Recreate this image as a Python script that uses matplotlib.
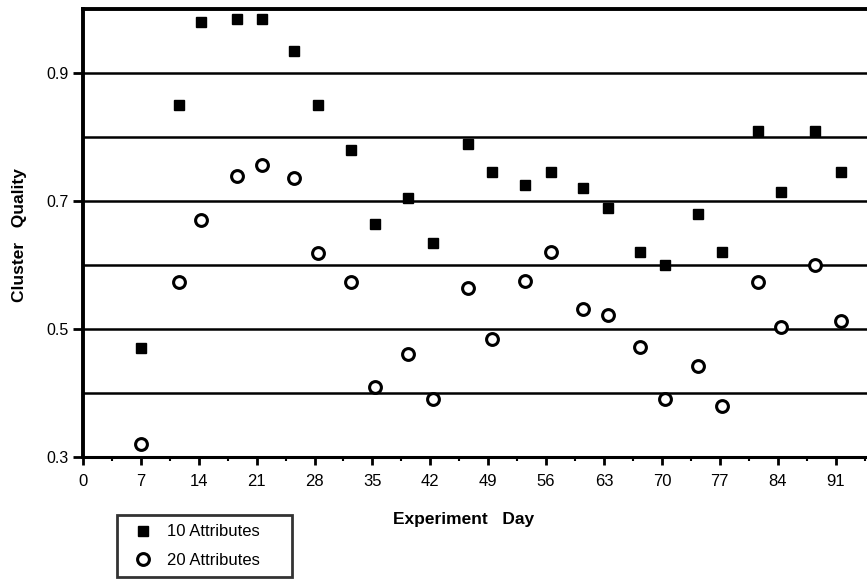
import matplotlib
matplotlib.use("Agg")
import matplotlib.pyplot as plt
from matplotlib.ticker import MultipleLocator

# =============================================================================
# DATA
# =============================================================================

days = [7, 11.6, 14.3, 18.6, 21.6, 25.5, 28.4, 32.4, 35.3, 39.3, 42.3, 46.5, 49.4,
        53.5, 56.6, 60.5, 63.5, 67.3, 70.4, 74.4, 77.3, 81.6, 84.4, 88.5, 91.6]

attr10 = [0.47, 0.85, 0.98, 0.985, 0.985, 0.935, 0.85, 0.78, 0.665, 0.705, 0.635, 0.79, 0.745,
          0.725, 0.745, 0.72, 0.69, 0.62, 0.60, 0.68, 0.62, 0.81, 0.715, 0.81, 0.745]

attr20 = [0.32, 0.573, 0.67, 0.739, 0.757, 0.737, 0.619, 0.573, 0.41, 0.461, 0.39, 0.564, 0.484,
          0.575, 0.62, 0.531, 0.522, 0.472, 0.39, 0.442, 0.38, 0.573, 0.503, 0.60, 0.512]

x_ticks = [0, 7, 14, 21, 28, 35, 42, 49, 56, 63, 70, 77, 84, 91]
y_ticks = [0.3, 0.5, 0.7, 0.9]
grid_levels = [0.4, 0.5, 0.6, 0.7, 0.8, 0.9]

# =============================================================================
# FIGURE
# =============================================================================

plt.rcParams['font.family'] = ['Liberation Sans', 'DejaVu Sans']

fig = plt.figure(figsize=(8.67, 5.81), dpi=100)
ax = fig.add_axes([0.0957, 0.2134, 0.9043, 0.7706])

for lvl in grid_levels:
    ax.axhline(lvl, color='black', lw=1.8, zorder=1)

ax.plot(days, attr10, linestyle='none', marker='s', markersize=7,
        color='black', label='10 Attributes', zorder=3)
ax.plot(days, attr20, linestyle='none', marker='o', markersize=8.5,
        markerfacecolor='white', markeredgecolor='black', markeredgewidth=2.2,
        label='20 Attributes', zorder=3)

ax.set_xlim(0, 94.8)
ax.set_ylim(0.3, 1.0)

ax.set_xticks(x_ticks)
ax.xaxis.set_minor_locator(MultipleLocator(3.5))
ax.set_yticks(y_ticks)
ax.set_yticklabels([f"{v:.1f}" for v in y_ticks])

ax.tick_params(axis='x', which='major', direction='out', length=6, width=2, labelsize=12, pad=6)
ax.tick_params(axis='x', which='minor', direction='out', length=3, width=1.5)
ax.tick_params(axis='y', which='major', direction='out', length=7, width=2, labelsize=11.5, pad=3)

ax.spines['right'].set_visible(False)
ax.spines['left'].set_linewidth(2.8)
ax.spines['bottom'].set_linewidth(2.2)
ax.spines['top'].set_linewidth(2.8)

ax.set_xlabel("Experiment   Day", fontsize=12.5, fontweight='bold')
ax.set_ylabel("Cluster   Quality", fontsize=12.5, fontweight='bold')
ax.xaxis.set_label_coords(0.485, -0.123)
ax.yaxis.set_label_coords(-0.072, 0.496)

# legend box sits below the axes, bottom-left
leg = fig.legend(loc='upper left', bbox_to_anchor=(0.135, 0.0, 0.202, 0.114), mode='expand',
                 frameon=True, fancybox=False, edgecolor='black', fontsize=12,
                 handletextpad=0.4, borderpad=0.58, labelspacing=0.8,
                 handlelength=2.0, borderaxespad=0)
leg.get_frame().set_linewidth(2)

fig.savefig("out.png", dpi=100)
